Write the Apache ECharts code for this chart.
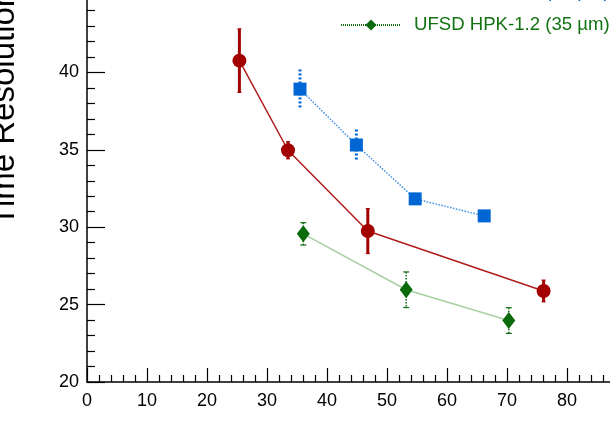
<!DOCTYPE html>
<html><head><meta charset="utf-8">
<script src="https://cdn.jsdelivr.net/npm/echarts/dist/echarts.min.js"></script>
<style>html,body{margin:0;padding:0;background:#fff}#c{width:610px;height:445px}</style>
</head><body><div id="c"></div>
<script>
// ---- data ----
const seriesNames = ['UFSD HPK-3.2 (50 µm)', 'UFSD HPK-3.1 (45 µm)', 'UFSD HPK-1.2 (35 µm)'];
const redX = [25.4, 33.5, 46.8, 76.1];
const redY = [40.76, 34.97, 29.75, 25.88];
const redErr = [2.05, 0.55, 1.45, 0.7];
const blueX = [35.5, 44.9, 54.7, 66.2];
const blueY = [38.92, 35.31, 31.83, 30.73];
const blueErr = [1.27, 1.0, 0.35, 0.15];
const greenX = [36.05, 53.2, 70.3];
const greenY = [29.57, 25.96, 23.97];
const greenErr = [0.72, 1.15, 0.83];
const xTicks = {min: 0, max: 100, interval: 10};
const yTicks = {min: 20, max: 45, interval: 5};
const yTitle = 'Time Resolution [ps]';

const FONT = 'Liberation Sans, Arial, Helvetica, sans-serif';
const RED = '#a30000', BLUE = '#0066d4', GREEN = '#0b6a0b';

function pts(xs, ys) { return xs.map((x, i) => [x, ys[i]]); }
function errPts(xs, ys, es) { return xs.map((x, i) => [x, ys[i], es[i]]); }

function errSeries(data, color, width, dash, cap) {
  return {
    type: 'custom', z: 1, silent: true,
    data: data,
    encode: {x: 0, y: 1},
    renderItem: function (params, api) {
      const x = api.value(0), y = api.value(1), e = api.value(2);
      const top = api.coord([x, y + e]);
      const bot = api.coord([x, y - e]);
      const st = {stroke: color, lineWidth: width, lineDash: dash || null, fill: null};
      const children = [
        {type: 'line', shape: {x1: top[0], y1: top[1], x2: bot[0], y2: bot[1]}, style: st}
      ];
      if (cap > 0) {
        children.push({type: 'line', shape: {x1: top[0] - cap, y1: top[1], x2: top[0] + cap, y2: top[1]}, style: {stroke: color, lineWidth: 1.2}});
        children.push({type: 'line', shape: {x1: bot[0] - cap, y1: bot[1], x2: bot[0] + cap, y2: bot[1]}, style: {stroke: color, lineWidth: 1.2}});
      }
      return {type: 'group', children: children};
    }
  };
}

const chart = echarts.init(document.getElementById('c'), null, {renderer: 'canvas'});
chart.setOption({
  animation: false,
  backgroundColor: '#fff',
  textStyle: {fontFamily: FONT},
  grid: {left: 87, right: -77, top: -5, bottom: 63, containLabel: false, outerBoundsMode: 'none'},
  legend: {
    orient: 'vertical', left: 340, top: -51, itemGap: 13, padding: 0,
    itemWidth: 60, itemHeight: 14,
    textStyle: {fontSize: 18.6, lineHeight: 20, fontFamily: FONT, padding: [0, 0, 0, 8]},
    data: [
      {name: seriesNames[0], textStyle: {color: RED}, lineStyle: {color: RED, width: 1.5, type: 'solid'}},
      {name: seriesNames[1], textStyle: {color: BLUE}, lineStyle: {color: BLUE, width: 2, type: 'dotted'}},
      {name: seriesNames[2], textStyle: {color: '#137313'}, lineStyle: {color: GREEN, width: 2, type: [1, 1]}}
    ]
  },
  xAxis: {
    type: 'value', min: xTicks.min, max: xTicks.max, interval: xTicks.interval,
    axisLine: {show: true, onZero: false, lineStyle: {color: '#000', width: 1.5}},
    axisTick: {show: true, inside: true, length: 14, lineStyle: {color: '#000', width: 1.2}},
    minorTick: {show: true, splitNumber: 5, length: 7, lineStyle: {color: '#000', width: 1.2}},
    splitLine: {show: false}, minorSplitLine: {show: false},
    axisLabel: {color: '#000', fontSize: 18, margin: 10, fontFamily: FONT, showMaxLabel: true}
  },
  yAxis: {
    type: 'value', min: yTicks.min, max: yTicks.max, interval: yTicks.interval,
    axisLine: {show: true, onZero: false, lineStyle: {color: '#000', width: 1.5}},
    axisTick: {show: true, inside: true, length: 18, lineStyle: {color: '#000', width: 1.2}},
    minorTick: {show: true, splitNumber: 5, length: 8, lineStyle: {color: '#000', width: 1.2}},
    splitLine: {show: false}, minorSplitLine: {show: false},
    axisLabel: {color: '#000', fontSize: 18, margin: 8, fontFamily: FONT, showMaxLabel: true}
  },
  graphic: [{
    type: 'text', x: 21, y: 226, rotation: Math.PI / 2,
    style: {text: yTitle, fontSize: 33, fontFamily: FONT, fill: '#000', textAlign: 'left', textVerticalAlign: 'bottom'}
  }],
  series: [
    errSeries(errPts(redX, redY, redErr), RED, 3, null, 2),
    errSeries(errPts(blueX, blueY, blueErr), BLUE, 3, [2, 2], 0),
    errSeries(errPts(greenX, greenY, greenErr), GREEN, 1.5, [1.5, 1.5], 3),
    {
      name: seriesNames[0], type: 'line', z: 3, data: pts(redX, redY),
      symbol: 'circle', symbolSize: 14,
      itemStyle: {color: RED}, lineStyle: {color: '#b01c1c', width: 1.5}
    },
    {
      name: seriesNames[1], type: 'line', z: 3, data: pts(blueX, blueY),
      symbol: 'rect', symbolSize: 13,
      itemStyle: {color: BLUE}, lineStyle: {color: '#3f8fe6', width: 1.5, type: 'dotted'}
    },
    {
      name: seriesNames[2], type: 'line', z: 3, data: pts(greenX, greenY),
      symbol: 'diamond', symbolSize: [13, 17],
      itemStyle: {color: GREEN}, lineStyle: {color: '#a9cfa3', width: 1.5}
    }
  ]
});
</script>
</body></html>
